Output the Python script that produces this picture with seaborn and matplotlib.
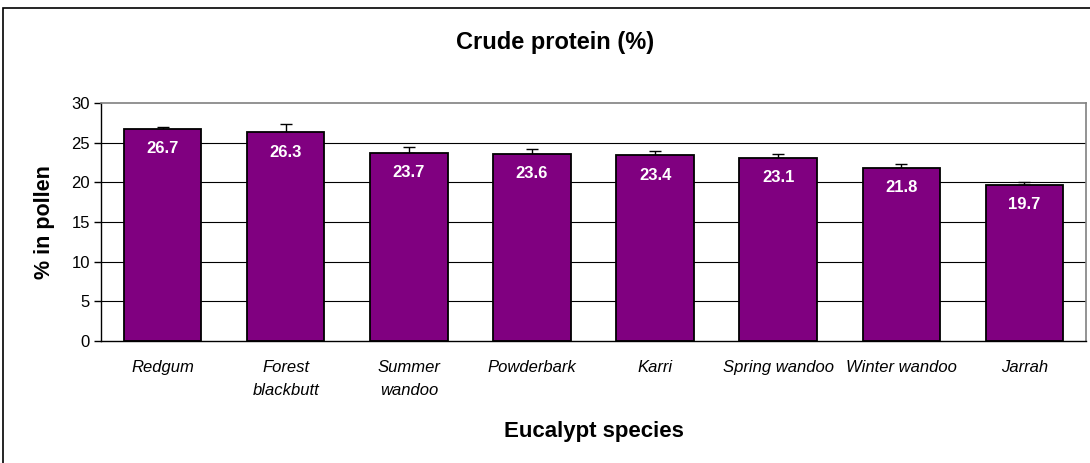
import matplotlib
matplotlib.use("Agg")
import matplotlib.pyplot as plt
import seaborn as sns
import pandas as pd
import numpy as np
from matplotlib.patches import Rectangle

species = ["Redgum", "Forest\nblackbutt", "Summer\nwandoo", "Powderbark",
           "Karri", "Spring wandoo", "Winter wandoo", "Jarrah"]
protein = [26.7, 26.3, 23.7, 23.6, 23.4, 23.1, 21.8, 19.7]
err_up = [0.3, 1.0, 0.8, 0.6, 0.6, 0.5, 0.45, 0.3]
yticks = [0, 5, 10, 15, 20, 25, 30]

sns.set_theme(style="white")
plt.rcParams['font.family'] = ['Liberation Sans', 'DejaVu Sans']
plt.rcParams['text.color'] = 'black'
plt.rcParams['axes.labelcolor'] = 'black'
plt.rcParams['xtick.color'] = 'black'
plt.rcParams['ytick.color'] = 'black'

df = pd.DataFrame({"species": species, "protein": protein})

W, H = 1090, 463
fig = plt.figure(figsize=(W / 100, H / 100), dpi=100)
ax = fig.add_axes([101 / W, 1 - 341 / H, (1086 - 101) / W, (341 - 103) / H])

# figure border
fig.patches.append(Rectangle((3 / W, -0.1), 1.2, 1 - 8 / H + 0.1, transform=fig.transFigure,
                             fill=False, edgecolor="black", linewidth=1.2))

# gridlines
for v in yticks[1:-1]:
    ax.axhline(v, color="black", linewidth=0.8, zorder=0)

sns.barplot(data=df, x="species", y="protein", color="#800080", saturation=1,
            width=0.63, edgecolor="black", linewidth=1.3, ax=ax, zorder=2)

xs = np.arange(len(species))
ax.errorbar(xs, protein, yerr=[np.zeros(len(err_up)), err_up], fmt="none",
            ecolor="black", elinewidth=1.0, capsize=4, capthick=1.0, zorder=1)

for x, v in zip(xs, protein):
    ax.text(x, v - 1.55, f"{v:.1f}", ha="center", va="top", color="white",
            fontsize=12, fontweight="bold", zorder=4)

ax.set_ylim(0, 30)
ax.set_xlim(-0.5, len(species) - 0.5)
ax.set_yticks(yticks)
ax.set_yticklabels([str(t) for t in yticks], fontsize=12)

ax.set_xticks(np.arange(-0.5, len(species), 1.0))
ax.set_xticklabels([])
ax.set_xticks(xs, minor=True)
ax.set_xticklabels(species, minor=True, fontsize=12, style="italic")
ax.tick_params(axis="x", which="minor", length=0, pad=14)
ax.tick_params(axis="x", which="major", length=5, width=1, color="black", direction="out")
ax.tick_params(axis="y", length=5, width=1, color="black", direction="out", pad=3, left=True)
for lab in ax.get_xticklabels(minor=True):
    lab.set_linespacing(1.6)

for s in ["left", "bottom"]:
    ax.spines[s].set_color("black")
    ax.spines[s].set_linewidth(1.0)
for s in ["top", "right"]:
    ax.spines[s].set_color("#808080")
    ax.spines[s].set_linewidth(1.2)

ax.set_xlabel("Eucalypt species", fontsize=16, fontweight="bold", labelpad=17)
ax.set_ylabel("% in pollen", fontsize=15.5, fontweight="bold", labelpad=12)
fig.text(555 / W, 1 - 42 / H, "Crude protein (%)", fontsize=17, fontweight="bold",
         ha="center", va="center")

fig.savefig("out.png", dpi=100)
